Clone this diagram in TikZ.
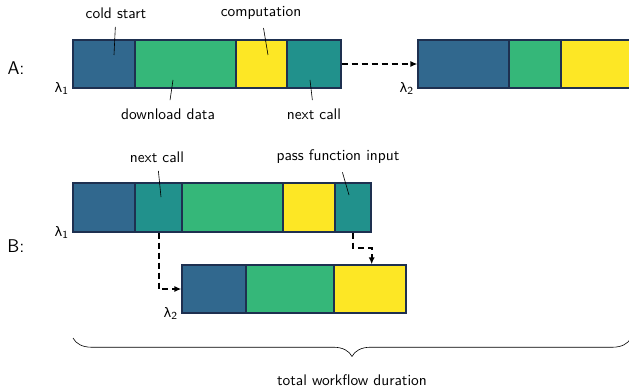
\documentclass[tikz,border=0pt]{standalone}
\usepackage{fontspec}
\usetikzlibrary{arrows.meta,fit,decorations.pathreplacing}
\newfontfamily\lamfont{DejaVu Sans}[Scale=0.85]
\definecolor{vBlue}{HTML}{31688E}
\definecolor{vGreen}{HTML}{35B779}
\definecolor{vYellow}{HTML}{FDE725}
\definecolor{vTeal}{HTML}{21918C}
\definecolor{vEdge}{HTML}{1E3050}
\newcommand{\pxUnit}{0.65pt}
\newcommand{\barTopA}{40}
\newcommand{\barBotA}{88}
\newcommand{\lam}[1]{{\lamfont λ}\textsubscript{#1}}

\begin{document}
\begin{tikzpicture}[x=\pxUnit, y=-\pxUnit, font=\sffamily,
  seg/.style={draw=vEdge, line width=0.9pt, inner sep=0pt, fill=#1},
  pointer/.style={thin, shorten <=2pt},
  call/.style={-{Latex[length=4.5pt,width=4pt]}, line width=1.3pt, dash pattern=on 4pt off 2.5pt},
  lamlbl/.style={anchor=east, inner sep=2pt},
  rowname/.style={font=\sffamily\large}]
\clip (0,0) rectangle (629,390);

% A
\node[rowname] (rowA) at (16,68) {A:};
\node[seg=vBlue, fit={(73,\barTopA)(135,\barBotA)}] (aCold) {};
\node[seg=vGreen, fit={(135,\barTopA)(236,\barBotA)}] (aLoad) {};
\node[seg=vYellow, fit={(236,\barTopA)(287,\barBotA)}] (aComp) {};
\node[seg=vTeal, fit={(287,\barTopA)(341,\barBotA)}] (aNext) {};
\node[lamlbl] (aLamOne) at (aCold.south west) {\lam{1}};

\node[seg=vBlue, fit={(418,\barTopA)(509,\barBotA)}] (a2Cold) {};
\node[seg=vGreen, fit={(509,\barTopA)(561,\barBotA)}] (a2Load) {};
\node[seg=vYellow, fit={(561,\barTopA)(680,\barBotA)}] (a2Comp) {};
\node[lamlbl] (aLamTwo) at (a2Cold.south west) {\lam{2}};
\draw[call] (aNext.east) -- (a2Cold.west);

\node (lCold) at (116,13) {cold start};
\node (lComp) at (261,13) {computation};
\node (lLoad) at (168,114) {download data};
\node (lNextA) at (314,114) {next call};
\coordinate (pCold) at (114,55);
\coordinate (pComp) at (268,55);
\coordinate (pLoad) at (173,80);
\coordinate (pNextA) at (310,80);
\draw[pointer] (lCold) -- (pCold);
\draw[pointer] (lComp) -- (pComp);
\draw[pointer] (lLoad) -- (pLoad);
\draw[pointer] (lNextA) -- (pNextA);

% B
\node[rowname] (rowB) at (16,246) {B:};
\node[seg=vBlue, fit={(73,183)(135,232)}] (bCold) {};
\node[seg=vTeal, fit={(135,183)(182,232)}] (bNext) {};
\node[seg=vGreen, fit={(182,183)(283,232)}] (bLoad) {};
\node[seg=vYellow, fit={(283,183)(335,232)}] (bComp) {};
\node[seg=vTeal, fit={(335,183)(371,232)}] (bPass) {};
\node[lamlbl] (bLamOne) at (bCold.south west) {\lam{1}};

\node[seg=vBlue, fit={(182,265)(246,313)}] (b2Cold) {};
\node[seg=vGreen, fit={(246,265)(334,313)}] (b2Load) {};
\node[seg=vYellow, fit={(334,265)(406,313)}] (b2Comp) {};
\node[lamlbl] (bLamTwo) at (b2Cold.south west) {\lam{2}};

\draw[call] (bNext.south) |- (b2Cold.west);
\draw[call] (bPass.south) -- ++(0,15) -| (bPass.east |- b2Comp.north);

\node (lNextB) at (157,157) {next call};
\node (lPass) at (338,157) {pass function input};
\coordinate (pNextB) at (161,197);
\coordinate (pPass) at (349,195);
\draw[pointer] (lNextB) -- (pNextB);
\draw[pointer] (lPass) -- (pPass);

% brace
\coordinate (brL) at (73,338);
\coordinate (brR) at (631,338);
\draw[thin, decorate, decoration={brace, amplitude=12pt, mirror}] (brL) -- (brR);
\node (lTotal) at (352,380) {total workflow duration};
\end{tikzpicture}
\end{document}
